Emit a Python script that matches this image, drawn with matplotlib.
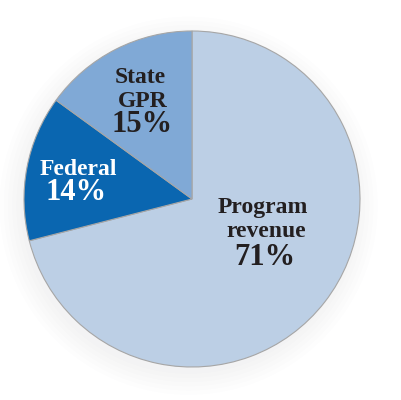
# 收入來源圓餅圖
import matplotlib.pyplot as plt
from matplotlib.patches import Circle

# 資料
labels = ["Program\nrevenue", "Federal", "State\nGPR"]
shares = [71, 14, 15]
colors = ["#bccfe5", "#0a66b0", "#80a9d6"]
text_colors = ["#231f20", "#ffffff", "#231f20"]

fig = plt.figure(figsize=(4.01, 4.00), dpi=100)
# 圓心約在 (192, 199) 像素, 半徑約 168 像素
ax = fig.add_axes([24 / 401, 33 / 400, 336 / 401, 336 / 400])
ax.set_clip_on(False)

# 淡淡的陰影
for k in range(6):
    ax.add_patch(Circle((-0.02, -0.04), 1.0 + 0.025 * k, color="#5a7aa0",
                        alpha=0.012, linewidth=0, clip_on=False, zorder=0))

wedges, _ = ax.pie(shares, colors=colors, startangle=90, counterclock=False,
                   radius=1.0,
                   wedgeprops=dict(edgecolor="#a6a6a6", linewidth=0.8, zorder=2))
ax.set_xlim(-1, 1)
ax.set_ylim(-1, 1)
ax.set_aspect("equal")
ax.axis("off")


def px(x, y):
    # 像素座標 -> 資料座標
    return (x - 192) / 168, (199 - y) / 168


font = ["Liberation Serif", "DejaVu Serif"]
# 每個扇形的文字位置 (名稱行的基線, 百分比基線)
name_pos = [[(263, 213), (266, 237)], [(78, 175)], [(140, 83), (143, 107)]]
pct_pos = [(265, 265), (76, 200), (142, 132)]

for i in range(len(labels)):
    lines = labels[i].split("\n")
    for line, (x, y) in zip(lines, name_pos[i]):
        ax.text(*px(x, y), line, ha="center", va="baseline", fontsize=17,
                fontweight="bold", family=font, color=text_colors[i], zorder=3)
    ax.text(*px(*pct_pos[i]), f"{shares[i]}%", ha="center", va="baseline",
            fontsize=22, fontweight="bold", family=font, color=text_colors[i],
            zorder=3)

fig.savefig("out.png", dpi=100, facecolor="white")
